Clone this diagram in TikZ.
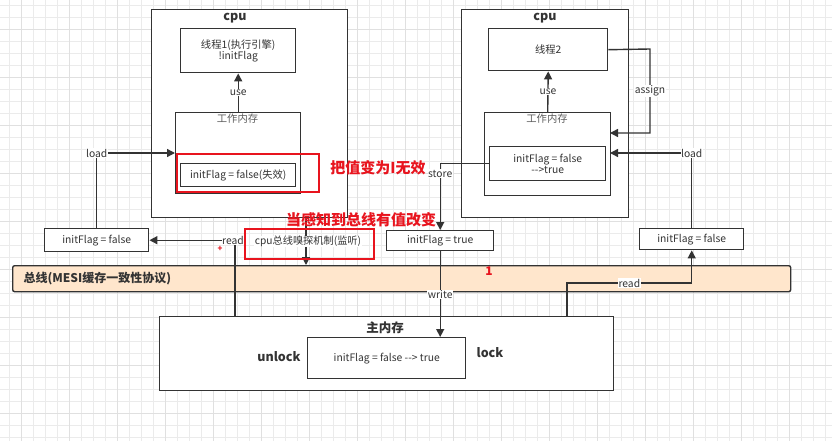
\documentclass[tikz,border=0pt]{standalone}
\usepackage{fontspec}
\setmainfont{Noto Sans CJK SC}
\usetikzlibrary{arrows.meta,calc}
\definecolor{linec}{HTML}{333333}
\definecolor{txtc}{HTML}{333333}
\definecolor{busfill}{HTML}{FFE6CC}
\definecolor{gridc}{HTML}{EBEBEB}
\definecolor{gridm}{HTML}{E0E0E0}
\definecolor{redc}{HTML}{E8141E}
\tikzset{
  boxst/.style={draw=linec, line width=1.4pt, fill=white, inner sep=0pt, anchor=north west, text=txtc,
                font=\fontsize{10.3}{12}\selectfont, align=center},
  lbl/.style={fill=white, inner sep=0.6pt, text=txtc, font=\fontsize{10.3}{11}\selectfont},
  arr/.style={draw=linec, line width=1.4pt, -{Triangle[length=8pt,width=8pt]}},
  redbox/.style={draw=redc, line width=2pt, anchor=north west, inner sep=0pt},
  redtxt/.style={text=redc, font=\fontsize{15}{17}\selectfont\bfseries},
  ttl/.style={text=txtc, font=\fontsize{12.5}{14}\selectfont\bfseries},
  sub/.style={text=txtc!80, font=\fontsize{10.3}{12}\selectfont},
}
\begin{document}
\begin{tikzpicture}[x=1pt,y=-1pt]
\useasboundingbox (0,0) rectangle (832,441);
\fill[white] (0,0) rectangle (832,441);
% grid
\foreach \gx in {9,21,...,832} {\draw[gridc, line width=0.6pt] (\gx,0) -- (\gx,441);}
\foreach \gy in {5,17,...,441} {\draw[gridc, line width=0.6pt] (0,\gy) -- (832,\gy);}
\foreach \gx in {21,69,...,832} {\draw[gridm, line width=0.9pt] (\gx,0) -- (\gx,441);}
\foreach \gy in {29,77,...,441} {\draw[gridm, line width=0.9pt] (0,\gy) -- (832,\gy);}

% bus
\node[boxst, fill=busfill, rounded corners=2pt, minimum width=778pt, minimum height=26pt] (bus) at (12,265) {};
\node[ttl, anchor=west, font=\fontsize{12}{14}\selectfont\bfseries] (bust) at (20,278.5) {总线(MESI缓存一致性协议)};

% left cpu
\node[boxst, minimum width=196pt, minimum height=208pt] (cpuL) at (151,9) {};
\node[ttl] (cpuLt) at (235,18.5) {cpu};
\node[boxst, minimum width=115pt, minimum height=44pt] (t1) at (180,28) {线程1(执行引擎)\\[-1.5pt]!initFlag};
\node[boxst, minimum width=125pt, minimum height=81pt] (wmL) at (175,112) {};
\node[sub] (wmLt) at (237.5,118.5) {工作内存};
\node[boxst, minimum width=115pt, minimum height=23pt] (fL) at (180,163) {initFlag = false(失效)};

% right cpu
\node[boxst, minimum width=167pt, minimum height=208pt] (cpuR) at (461,9) {};
\node[ttl] (cpuRt) at (545,18.5) {cpu};
\node[boxst, minimum width=119pt, minimum height=42pt] (t2) at (488,28) {线程2};
\node[boxst, minimum width=126pt, minimum height=83pt] (wmR) at (484,112) {};
\node[sub] (wmRt) at (547,118.5) {工作内存};
\node[boxst, minimum width=116pt, minimum height=34pt] (fR) at (489,146) {initFlag = false\\[-1.5pt]-{}->true};

% value boxes
\node[boxst, minimum width=104pt, minimum height=23pt] (boxLf) at (44,228) {initFlag = false};
\node[boxst, minimum width=104pt, minimum height=21pt] (boxRf) at (639,228) {initFlag = false};
\node[boxst, minimum width=107pt, minimum height=20pt] (boxT) at (386,230) {initFlag = true};

% main memory
\node[boxst, minimum width=454pt, minimum height=74pt] (mm) at (159,316) {};
\node[ttl] (mmt) at (385,327.5) {主内存};
\node[boxst, minimum width=158pt, minimum height=41pt] (mmi) at (307,337) {initFlag = false -{}-> true};
\node[ttl] (unl) at (279,357) {unlock};
\node[ttl] (lck) at (490,353) {lock};

% coordinates
\coordinate (ldL) at (175,153);
\coordinate (rdL) at (235,316);
\coordinate (snA) at (306,217);
\coordinate (snB) at (306,265);
\coordinate (asc) at (650,49);
\coordinate (asg) at (610,133);
\coordinate (ldR) at (610,153);
\coordinate (rdR) at (567,316);
\coordinate (rdRc) at (567,283);

% connectors
\draw[arr] (wmL.north) -- node[lbl]{use} (t1.south);
\draw[arr] (wmR.north) -- node[lbl]{use} (t2.south);
\draw[arr] (boxLf.north) |- node[lbl,pos=0.5]{load} (ldL);
\draw[arr] (rdL) |- node[lbl,pos=0.5,xshift=-2pt]{read} (boxLf.east);
\draw[arr] (snA) -- (snB);
\draw[arr] (t2.east) -- (asc) |- node[lbl,pos=0.25]{assign} (asg);
\draw[arr] (boxRf.north) |- node[lbl,pos=0.5]{load} (ldR);
\draw[arr] (fR.west) -| node[lbl,pos=0.575]{store} (boxT.north);
\draw[arr] (boxT.south) -- node[lbl]{write} (boxT.south |- mmi.north);
\draw[arr] (rdR) -- (rdRc) -| node[lbl,pos=0.25]{read} (boxRf.south);

% red highlights
\node[redbox, minimum width=142pt, minimum height=38pt] (redL) at (176,153) {};
\node[redtxt] (redT1) at (378,167.5) {把值变为I无效};
\node[redbox, minimum width=129pt, minimum height=30pt] (snoop) at (244,228) {};
\node[fill=white, inner sep=0.5pt, text=txtc, font=\fontsize{10.2}{11}\selectfont] (snoopt) at (308,241.5) {cpu总线嗅探机制(监听)};
\node[redtxt] (redT2) at (361,219.5) {当感知到总线有值改变};
\node[redtxt, font=\fontsize{12}{13}\selectfont\bfseries] (one) at (489,271) {1};
\node[text=redc, font=\fontsize{8}{9}\selectfont\bfseries, inner sep=0pt] (plus) at (220,249) {+};
\end{tikzpicture}
\end{document}
